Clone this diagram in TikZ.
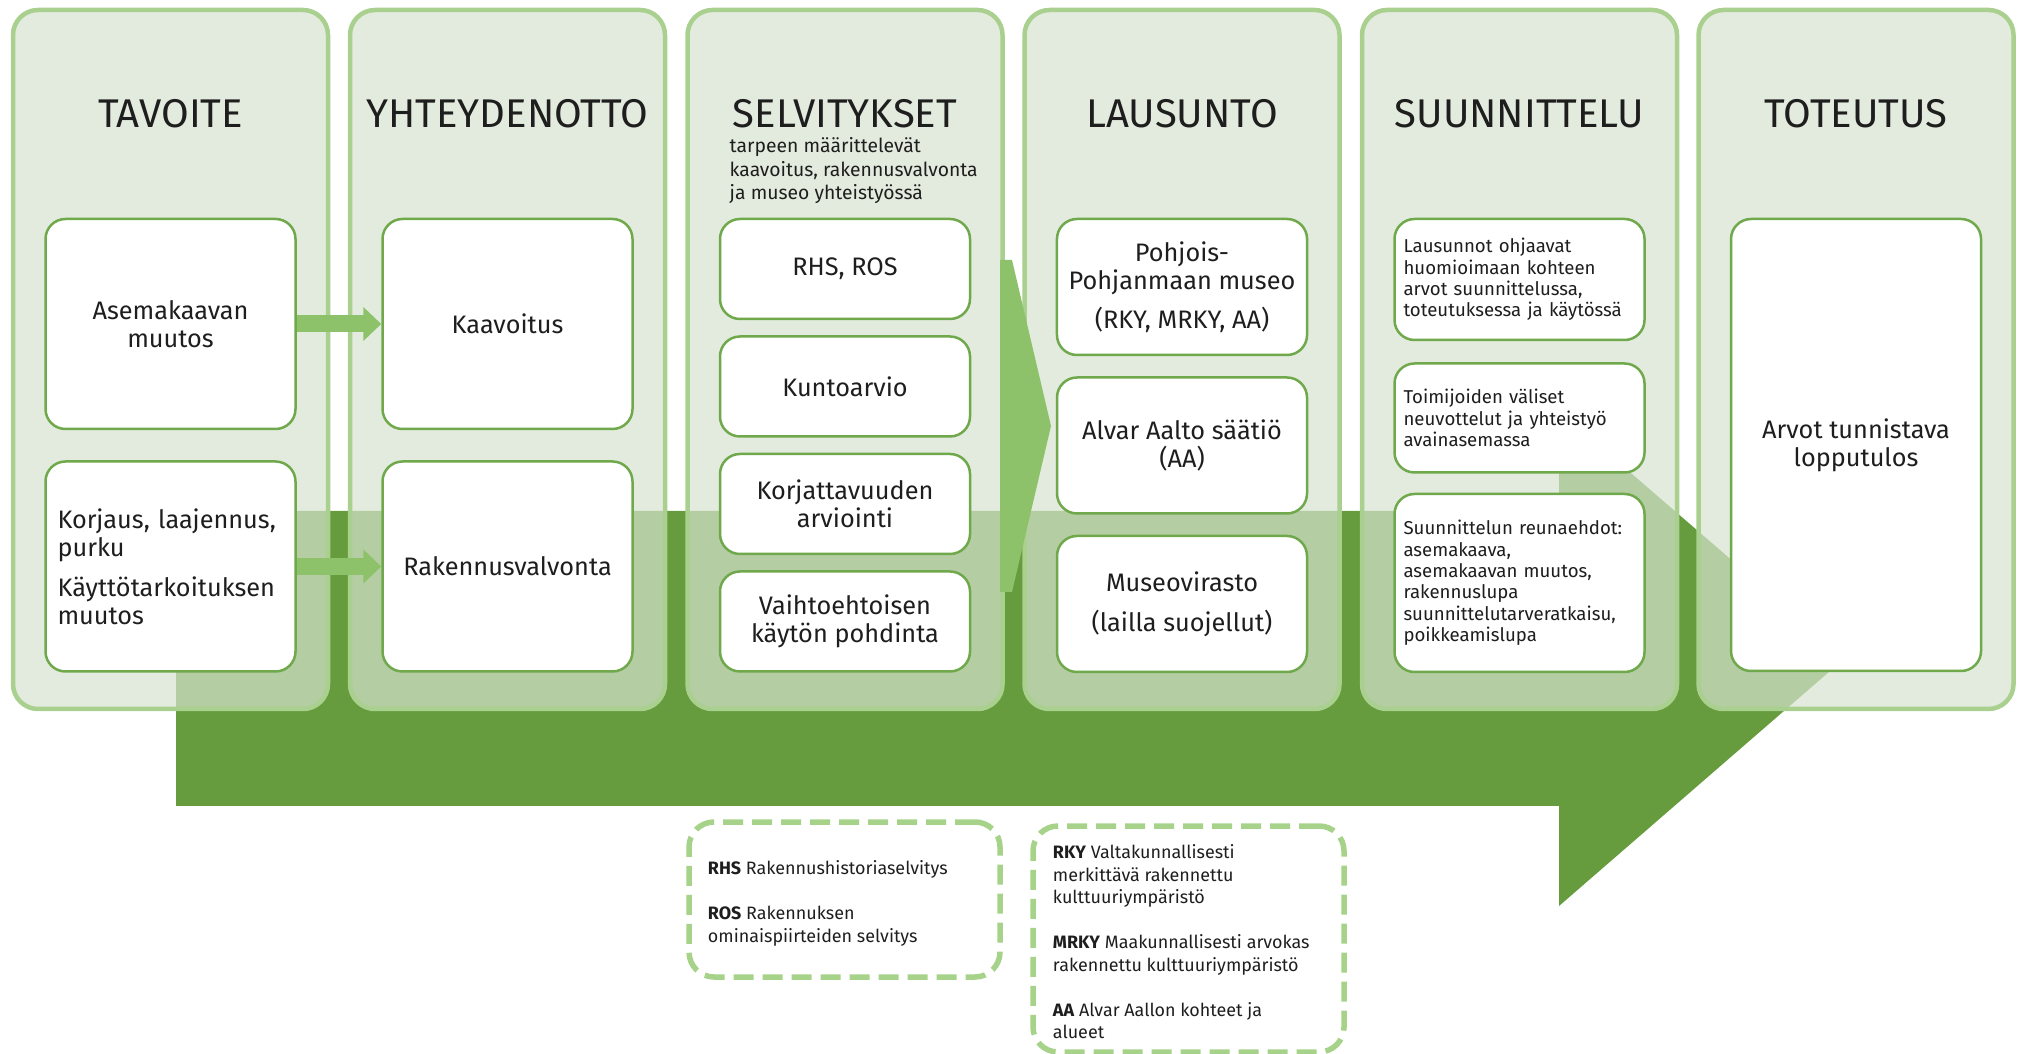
\documentclass[tikz,border=0pt]{standalone}
\usepackage{fontspec}
\setmainfont{Fira Sans}
\usepackage{tikz}
\usetikzlibrary{arrows.meta}
\usetikzlibrary{positioning}

\definecolor{arrowdark}{RGB}{102,156,61}
\definecolor{arrowlight}{RGB}{141,193,106}
\definecolor{colfill}{RGB}{214,227,207}
\definecolor{colline}{RGB}{169,208,142}
\definecolor{boxline}{RGB}{112,168,76}
\definecolor{dashline}{RGB}{166,210,138}
\definecolor{inktext}{RGB}{30,30,30}

\tikzset{font={\fontsize{7.2}{8}\selectfont}, text=inktext}
\tikzset{
	column/.style={rectangle, rounded corners=2.5mm, draw=colline, line width=0.45mm, fill=colfill, fill opacity=0.7, minimum width=31.5mm, minimum height=69.9mm},
	stepbox/.style={rectangle, rounded corners=2mm, draw=boxline, line width=0.25mm, fill=white, minimum width=25mm, align=center},
	leftbox/.style={stepbox, align=left, text width=22.6mm, inner xsep=1.2mm},
	notebox/.style={stepbox, align=left, text width=23.2mm, inner xsep=0.9mm, font={\fontsize{5.3}{6.1}\selectfont}},
	heading/.style={anchor=base, font={\fontsize{11.4}{12}\selectfont}},
	subnote/.style={anchor=north west, inner sep=0, align=left, font={\fontsize{5.5}{6.7}\selectfont}},
	flowarrow/.style={draw=arrowlight, line width=1.7mm, -{Triangle[width=3.3mm, length=1.8mm]}},
	legendbox/.style={rectangle, rounded corners=2.5mm, draw=dashline, line width=0.55mm, dash pattern=on 2mm off 0.9mm, minimum width=31.1mm},
	legendtext/.style={anchor=west, inner sep=0, align=left, font={\fontsize{5.1}{6.4}\selectfont}}
}

\begin{document}
\begin{tikzpicture}[x=0.1mm, y=-0.1mm]

	\useasboundingbox (0,0) rectangle (2020,1054);

	\fill[arrowdark] (176,511) -- (1559,511) -- (1559,411) -- (1845,658) -- (1559,906) -- (1559,806) -- (176,806) -- cycle;

	\node (col_tavoite) [column] at (170.5,359.5) {};
	\node (col_yhteys) [column] at (507.5,359.5) {};
	\node (col_selvitys) [column] at (845,359.5) {};
	\node (col_lausunto) [column] at (1182,359.5) {};
	\node (col_suunnittelu) [column] at (1519.5,359.5) {};
	\node (col_toteutus) [column] at (1856,359.5) {};

	\node (title_tavoite) [heading] at (170.5,128) {TAVOITE};
	\node (title_yhteys) [heading] at (507.5,128) {YHTEYDENOTTO};
	\node (title_selvitys) [heading] at (845,128) {SELVITYKSET};
	\node (title_lausunto) [heading] at (1182,128) {LAUSUNTO};
	\node (title_suunnittelu) [heading] at (1519.5,128) {SUUNNITTELU};
	\node (title_toteutus) [heading] at (1856,128) {TOTEUTUS};

	\node (sub_selvitys) [subnote] at (729,137) {tarpeen määrittelevät\\kaavoitus, rakennusvalvonta\\ja museo yhteistyössä};

	\node (box_asemakaava) [stepbox, minimum height=21mm] at (170.5,324) {Asemakaavan\\muutos};
	\node (box_korjaus) [leftbox, minimum height=21mm, below=3mm of box_asemakaava] {Korjaus, laajennus,\\purku\\[1.2mm]Käyttötarkoituksen\\muutos};

	\node (box_kaavoitus) [stepbox, minimum height=21mm] at (507.5,324) {Kaavoitus};
	\node (box_rakvalvonta) [stepbox, minimum height=21mm, below=3mm of box_kaavoitus] {Rakennusvalvonta};

	\node (box_rhs) [stepbox, minimum height=10mm] at (845,269) {RHS, ROS};
	\node (box_kunto) [stepbox, minimum height=10mm, below=1.5mm of box_rhs] {Kuntoarvio};
	\node (box_korjattavuus) [stepbox, minimum height=10mm, below=1.5mm of box_kunto] {Korjattavuuden\\arviointi};
	\node (box_vaihtoehto) [stepbox, minimum height=10mm, below=1.5mm of box_korjattavuus] {Vaihtoehtoisen\\käytön pohdinta};

	\node (box_ppm) [stepbox, minimum height=13.6mm] at (1182,287) {Pohjois-\\Pohjanmaan museo\\[1.1mm](RKY, MRKY, AA)};
	\node (box_aalto) [stepbox, minimum height=13.6mm, below=2mm of box_ppm] {Alvar Aalto säätiö\\(AA)};
	\node (box_museovirasto) [stepbox, minimum height=13.6mm, below=2mm of box_aalto] {Museovirasto\\[1.2mm](lailla suojellut)};

	\node (box_lausunnot) [notebox, minimum height=12.1mm] at (1519.5,279.5) {Lausunnot ohjaavat\\huomioimaan kohteen\\arvot suunnittelussa,\\toteutuksessa ja käytössä};
	\node (box_toimijat) [notebox, minimum height=10.9mm, below=2.1mm of box_lausunnot] {Toimijoiden väliset\\neuvottelut ja yhteistyö\\avainasemassa};
	\node (box_reunaehdot) [notebox, minimum height=17.8mm, below=1.9mm of box_toimijat] {Suunnittelun reunaehdot:\\asemakaava,\\asemakaavan muutos,\\rakennuslupa\\suunnittelutarveratkaisu,\\poikkeamislupa};

	\node (box_lopputulos) [stepbox, minimum height=45.2mm] at (1856,445) {Arvot tunnistava\\lopputulos};

	\fill[arrowlight] (1000,260) -- (1012,260) -- (1051,426) -- (1012,592) -- (1000,592) -- cycle;

	\draw[flowarrow] (box_asemakaava.east) -- (box_kaavoitus.west);
	\draw[flowarrow] (box_korjaus.east) -- (box_rakvalvonta.west);

	\node (legend_a) [legendbox, minimum height=15.5mm] at (844.5,899.5) {};
	\node (legend_a_text) [legendtext] at ([xshift=2.1mm, yshift=-0.4mm]legend_a.west) {\textbf{RHS} Rakennushistoriaselvitys\\[2.25mm]\textbf{ROS} Rakennuksen\\ominaispiirteiden selvitys};

	\node (legend_b) [legendbox, minimum height=22.6mm] at (1188.5,939) {};
	\node (legend_b_text) [legendtext] at ([xshift=2.2mm, yshift=-0.3mm]legend_b.west) {\textbf{RKY} Valtakunnallisesti\\merkittävä rakennettu\\kulttuuriympäristö\\[2.25mm]\textbf{MRKY} Maakunnallisesti arvokas\\rakennettu kulttuuriympäristö\\[2.25mm]\textbf{AA} Alvar Aallon kohteet ja\\alueet};

\end{tikzpicture}
\end{document}
